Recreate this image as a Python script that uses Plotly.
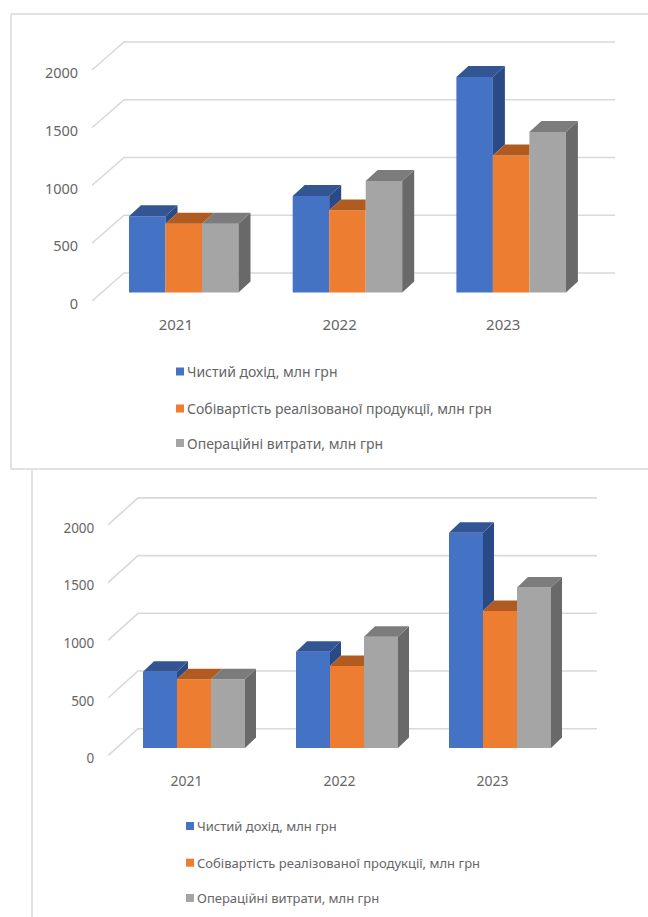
import plotly.graph_objects as go

# ---- data ----
years = ["2021", "2022", "2023"]
series_names = ["Чистий дохід, млн грн",
                "Собівартість реалізованої продукції, млн грн",
                "Операційні витрати, млн грн"]
revenue = [660, 835, 1865]
cost_of_sales = [595, 710, 1187]
operating_costs = [595, 965, 1390]
y_ticks = [0, 500, 1000, 1500, 2000]

front_colors = ["#4472C4", "#ED7D31", "#A5A5A5"]
top_colors = ["#335593", "#B25B21", "#7C7C7C"]
side_colors = ["#2A4A85", "#8F4A1B", "#696969"]
GRID = "#D9D9D9"
TEXT = "#666666"
FONT = "Noto Sans"
W, H = 648, 917

all_values = [revenue, cost_of_sales, operating_costs]

# ---- panel geometry (pixels on the page) ----
panels = [
    dict(left=92, bottom=301, pitch=163.7, unit=0.1155, wall_dx=32, wall_dy=28,
         bar_w=36.5, bar_dx=12, bar_dy=11, shift_x=9.9, lift=8.5, tick=14.5, lab=15,
         legend_x=176, legend_ys=[371.5, 408.5, 443], legend_font=14, xlen=10, ylen=10,
         yshift=3, xshift=2),
    dict(left=108, bottom=755.7, pitch=153, unit=0.1154, wall_dx=30, wall_dy=27,
         bar_w=34, bar_dx=11, bar_dy=10.5, shift_x=9.5, lift=7.7, tick=13.5, lab=14,
         legend_x=186, legend_ys=[826, 862.7, 898], legend_font=13, xlen=12, ylen=10,
         yshift=3, xshift=2),
]

fig = go.Figure()
shapes, annotations = [], []

for idx, p in enumerate(panels):
    suffix = "" if idx == 0 else str(idx + 1)
    xref, yref = "x" + suffix, "y" + suffix
    pitch, unit = p["pitch"], p["unit"]
    wall_dx = p["wall_dx"] / pitch
    wall_dy = p["wall_dy"] / unit
    bw = p["bar_w"] / pitch
    ddx = p["bar_dx"] / pitch
    ddy = p["bar_dy"] / unit
    base = p["lift"] / unit
    shift = p["shift_x"] / pitch
    pad = 2 / unit

    y_top = max(y_ticks) + wall_dy + pad
    x_right = 2.5 + wall_dx + 2 / pitch
    px_w = (x_right + 0.5) * pitch
    px_h = y_top * unit

    # slanted wall gridlines
    for t in y_ticks:
        shapes.append(dict(type="path", xref=xref, yref=yref, layer="below",
                           path=f"M -0.5 {t} L {-0.5 + wall_dx} {t + wall_dy} L {2.5 + wall_dx} {t + wall_dy}",
                           line=dict(color=GRID, width=1.6)))

    # front faces
    for s, vals in enumerate(all_values):
        off = shift - 1.5 * bw + s * bw
        fig.add_trace(go.Bar(x=[0, 1, 2], y=vals, base=[base] * 3, width=bw, offset=off,
                             marker=dict(color=front_colors[s], line=dict(width=0)),
                             name=series_names[s], showlegend=False,
                             xaxis=xref, yaxis=yref))

    # top and right faces, computed from the values
    for s, vals in enumerate(all_values):
        for c, v in enumerate(vals):
            L = c + shift - 1.5 * bw + s * bw
            R = L + bw
            Y = base + v
            nxt = all_values[s + 1][c] + base if s < 2 else None
            # right face, only the part not hidden by the neighbour
            if nxt is None:
                sx = [R, R + ddx, R + ddx, R]
                sy = [Y, Y + ddy, base + ddy, base]
            elif nxt < Y:
                sx = [R, R + ddx, R + ddx, R]
                sy = [Y, Y + ddy, nxt + ddy, nxt]
            else:
                sx = sy = None
            if sx:
                fig.add_trace(go.Scatter(x=sx, y=sy, fill="toself", mode="lines",
                                         line=dict(width=0), fillcolor=side_colors[s],
                                         hoverinfo="skip", showlegend=False,
                                         xaxis=xref, yaxis=yref))
            # top face
            if nxt is not None and nxt >= Y + ddy:
                tx = [L, R, R, L + ddx]
                ty = [Y, Y, Y + ddy, Y + ddy]
            else:
                tx = [L, R, R + ddx, L + ddx]
                ty = [Y, Y, Y + ddy, Y + ddy]
            fig.add_trace(go.Scatter(x=tx, y=ty, fill="toself", mode="lines",
                                     line=dict(width=0), fillcolor=top_colors[s],
                                     hoverinfo="skip", showlegend=False,
                                     xaxis=xref, yaxis=yref))

    fig.update_layout({
        "xaxis" + suffix: dict(domain=[p["left"] / W, (p["left"] + px_w) / W],
                               range=[-0.5, x_right], tickvals=[0, 1, 2], ticktext=years,
                               ticks="outside", ticklen=p["xlen"], tickcolor="rgba(0,0,0,0)",
                               ticklabelshift=p["xshift"], automargin=False,
                               showgrid=False, zeroline=False, showline=False, anchor=yref,
                               tickfont=dict(family=FONT, size=p["lab"], color=TEXT),
                               fixedrange=True),
        "yaxis" + suffix: dict(domain=[1 - p["bottom"] / H, 1 - (p["bottom"] - px_h) / H],
                               range=[0, y_top], tickvals=y_ticks,
                               ticks="outside", ticklen=p["ylen"], tickcolor="rgba(0,0,0,0)",
                               ticklabelshift=p["yshift"], automargin=False,
                               showgrid=False, zeroline=False, showline=False, anchor=xref,
                               tickfont=dict(family=FONT, size=p["tick"], color=TEXT),
                               fixedrange=True),
    })

    # legend
    for s, name in enumerate(series_names):
        ly = p["legend_ys"][s]
        lx = p["legend_x"]
        shapes.append(dict(type="rect", xref="paper", yref="paper",
                           x0=lx / W, x1=(lx + 8) / W,
                           y0=1 - (ly + 4) / H, y1=1 - (ly - 4) / H,
                           fillcolor=front_colors[s], line=dict(width=0)))
        annotations.append(dict(xref="paper", yref="paper", x=(lx + 9.2) / W, y=1 - ly / H,
                                xanchor="left", yanchor="middle", showarrow=False, text=name,
                                font=dict(family=FONT, size=p["legend_font"], color=TEXT)))

# chart frames
for x0, y0, x1, y1 in [(11, 14, 11, 469), (11, 14, W, 14), (11, 469, W, 469), (32, 470, 32, H)]:
    shapes.append(dict(type="line", xref="paper", yref="paper", layer="below",
                       x0=x0 / W, x1=x1 / W, y0=1 - y0 / H, y1=1 - y1 / H,
                       line=dict(color=GRID, width=1.5)))

fig.update_layout(width=W, height=H, margin=dict(l=0, r=0, t=0, b=0),
                  paper_bgcolor="white", plot_bgcolor="rgba(0,0,0,0)",
                  barmode="overlay", showlegend=False,
                  shapes=shapes, annotations=annotations)

fig.write_html("out.html", config=dict(displayModeBar=False, responsive=False),
               post_script="document.body.style.margin='0';")
